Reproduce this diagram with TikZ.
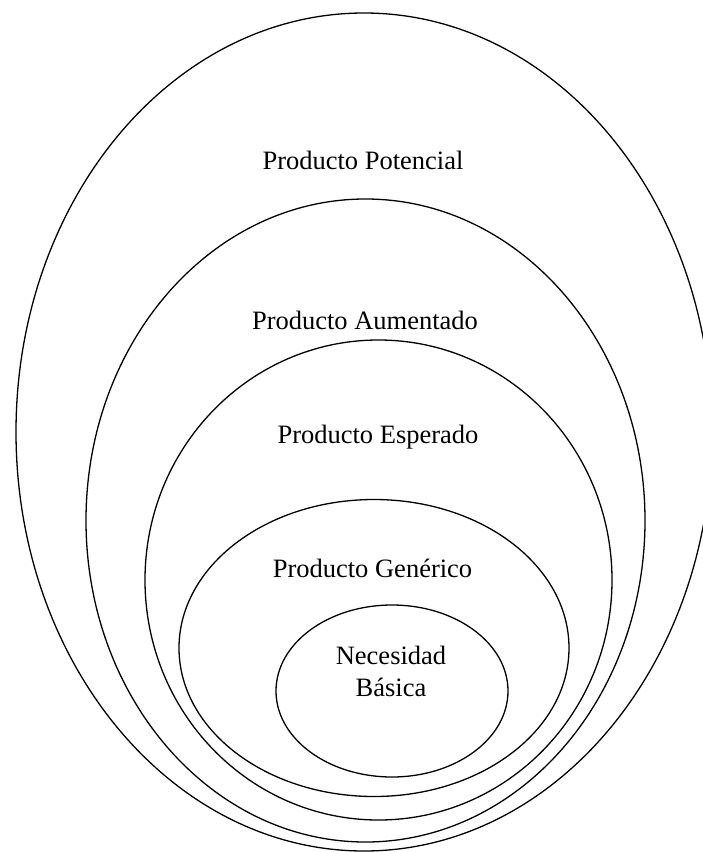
\documentclass[tikz,border=0pt]{standalone}
\usepackage{fontspec}
\setmainfont{Liberation Serif}
\usetikzlibrary{shapes}

\begin{document}
\begin{tikzpicture}[x=1pt, y=-1pt,
 ring/.style args = {#1/#2}{%
      ellipse, draw, line width=1.3pt, inner sep=0pt,
      minimum width=#1, minimum height=#2},
 lbl/.style = {%
      font=\fontsize{26.5}{32}\selectfont, align=center}
                    ]
\useasboundingbox (0,0) rectangle (702,852);
% levels of product, outer to inner
\node(pot) [ring=696pt/838pt] at (364, 432) {};
\node(aum) [ring=559pt/643pt] at (365.5, 520.5) {};
\node(esp) [ring=467pt/480pt] at (378.5, 580) {};
\node(gen) [ring=390pt/297pt] at (374, 648) {};
\node(nec) [ring=232pt/172pt] at (392, 691) {};
%
\node(tpot) [lbl] at (363, 160) {Producto Potencial};
\node(taum) [lbl] at (365, 320) {Producto Aumentado};
\node(tesp) [lbl] at (378, 437) {Producto Esperado};
\node(tgen) [lbl] at (372.5, 568) {Producto Genérico};
\node(tnec) [lbl] at (391, 671) {Necesidad\\Básica};
\end{tikzpicture}
\end{document}
